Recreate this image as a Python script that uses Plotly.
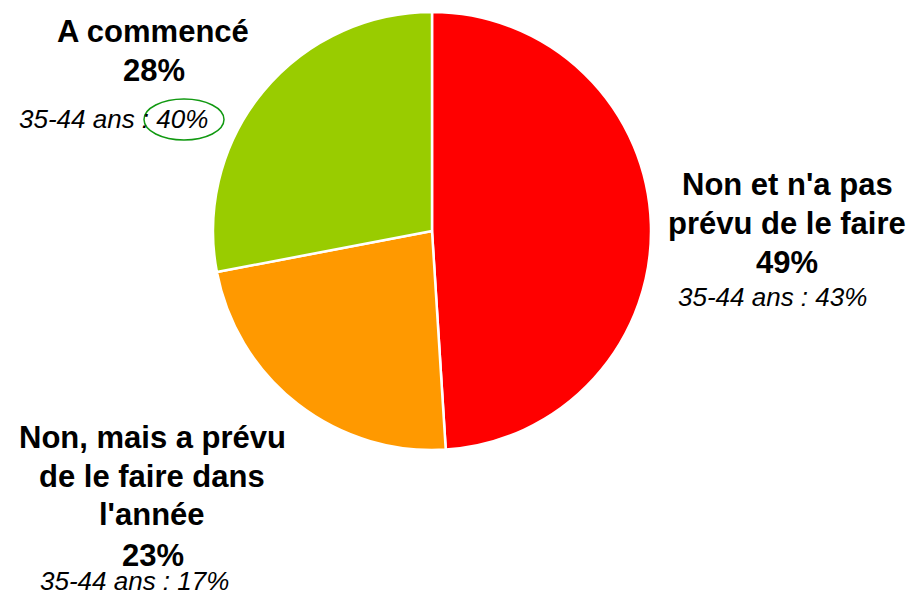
import plotly.graph_objects as go

W, H = 913, 594

# données
categories = ["Non et n'a pas prévu de le faire", "Non, mais a prévu de le faire dans l'année", "A commencé"]
valeurs = [49, 23, 28]
couleurs = ["#FF0000", "#FF9900", "#99CC00"]
sous_groupe = ["35-44 ans : 43%", "35-44 ans : 17%", "35-44 ans : 40%"]

# lignes de texte des étiquettes (x, y en pixels depuis le haut)
etiquettes = [
    [("Non et n'a pas", 787, 185), ("prévu de le faire", 787, 223), (f"{valeurs[0]}%", 787, 262)],
    [("Non, mais a prévu", 152, 437), ("de le faire dans", 152, 476), ("l'année", 152, 514), (f"{valeurs[1]}%", 153, 555)],
    [("A commencé", 153, 31), (f"{valeurs[2]}%", 154, 71)],
]
pos_sous_groupe = [(772, 297), (134, 581), (113, 119)]


def px_x(x):
    return x / W


def px_y(y):
    return 1 - y / H


cx, cy, r = 432, 231, 219

fig = go.Figure(go.Pie(
    labels=categories,
    values=valeurs,
    marker=dict(colors=couleurs, line=dict(color="white", width=2.5)),
    sort=False,
    direction="clockwise",
    rotation=0,
    textinfo="none",
    hoverinfo="label+percent",
    showlegend=False,
    domain=dict(x=[px_x(cx - r), px_x(cx + r)], y=[px_y(cy + r), px_y(cy - r)]),
))

annotations = []
for lignes in etiquettes:
    for txt, x, y in lignes:
        annotations.append(dict(
            text=f"<b>{txt}</b>", x=px_x(x), y=px_y(y), xref="paper", yref="paper",
            xanchor="center", yanchor="middle", showarrow=False,
            font=dict(family="Liberation Sans, Arial, sans-serif", size=31, color="black"),
        ))
for txt, (x, y) in zip(sous_groupe, pos_sous_groupe):
    annotations.append(dict(
        text=f"<i>{txt}</i>", x=px_x(x), y=px_y(y), xref="paper", yref="paper",
        xanchor="center", yanchor="middle", showarrow=False,
        font=dict(family="Liberation Sans, Arial, sans-serif", size=26, color="black"),
    ))

fig.update_layout(
    width=W, height=H,
    margin=dict(l=0, r=0, t=0, b=0),
    paper_bgcolor="white",
    plot_bgcolor="white",
    annotations=annotations,
    shapes=[dict(
        type="circle", xref="paper", yref="paper",
        x0=px_x(144), x1=px_x(224), y0=px_y(140), y1=px_y(99),
        line=dict(color="#119911", width=1.5),
    )],
)

# la page a une marge de 8px par défaut : on l'enlève
fig.write_html("out.html", config={"displayModeBar": False},
               post_script="document.body.style.margin='0';")
